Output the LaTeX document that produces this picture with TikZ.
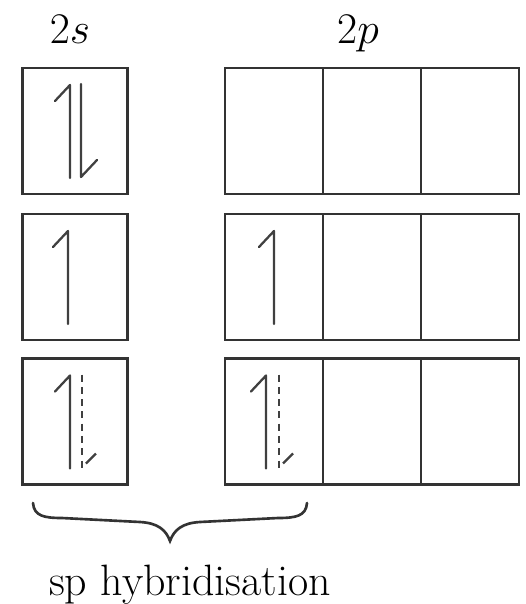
\documentclass[tikz,border=0pt]{standalone}
\usepackage{tikz}
\usetikzlibrary{positioning}

\begin{document}
\begin{tikzpicture}[x=0.02cm, y=-0.02cm,
  every node/.style={font=\fontsize{25}{30}\selectfont},
  orbital/.style={draw=black!80, line width=1.5pt, outer sep=0pt, inner sep=0pt,
    minimum width=2.1cm, minimum height=2.52cm},
  cell/.style={orbital, minimum width=1.96cm},
  spin/.style={black!75, line width=1.3pt, line cap=round, line join=round},
  spinup/.pic={\draw[spin] (0,47) -- (0,-46) -- (-15,-30);},
  spindown/.pic={\draw[spin] (0,-47) -- (0,46) -- (16,29);},
  spinhalf/.pic={\draw[spin, line cap=butt, dash pattern=on 4pt off 3pt] (0,-47) -- (0,46);
    \draw[spin, line cap=butt] (4,42) -- (14,32);},
  brace/.style={black!80, line width=1.5pt, line cap=round}]
\useasboundingbox (0,0) rectangle (526,604);
% orbital boxes, one row per state
\foreach \r/\y in {1/131,2/277,3/421.5} {
  \node[orbital] (s\r) at (75,\y) {};
  \node[cell] (p\r-1) at (274,\y) {};
  \node[cell, right=0pt of p\r-1] (p\r-2) {};
  \node[cell, right=0pt of p\r-2] (p\r-3) {};}
\node[anchor=base] (ls) at (70,44) {$2s$};
\node[anchor=base] (lp) at (358,44) {$2p$};
% electrons
\path (s1) ++(-5,0) pic {spinup};
\path (s1) ++(6,0) pic {spindown};
\path (s2) ++(-7,0) pic {spinup};
\path (p2-1) ++(0,0) pic {spinup};
\path (s3) ++(-5,0) pic {spinup};
\path (s3) ++(7,0) pic {spinhalf};
\path (p3-1) ++(-8,0) pic {spinup};
\path (p3-1) ++(5,0) pic {spinhalf};
% brace under the hybrid orbitals
\draw[brace] (33,503) .. controls (34,516) and (44,518) .. (62,518) -- (140,522)
  .. controls (158,523) and (166,530) .. (170,541)
  .. controls (174,530) and (182,523) .. (200,522) -- (278,518)
  .. controls (296,518) and (306,516) .. (307,503);
\node[anchor=base] (hyb) at (190,595) {sp hybridisation};
\end{tikzpicture}
\end{document}
